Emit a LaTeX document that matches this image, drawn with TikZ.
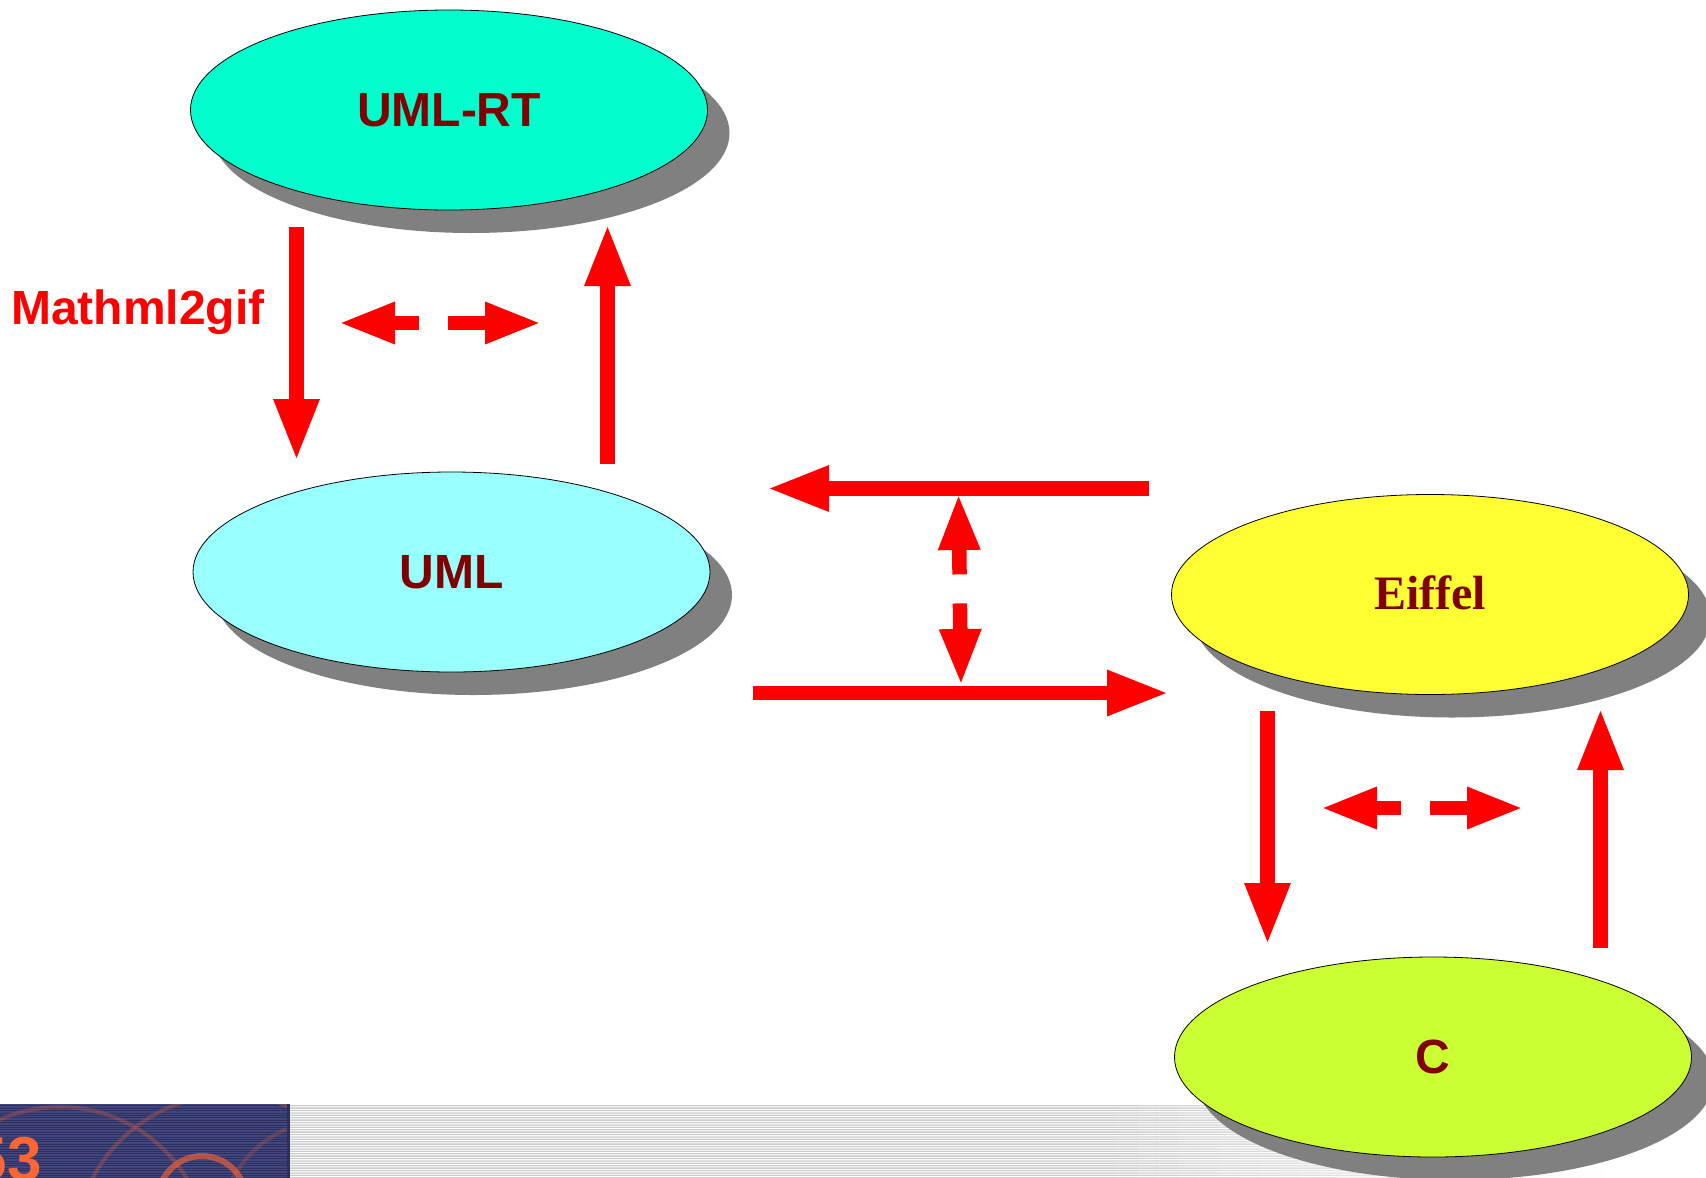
\documentclass[tikz,border=0pt]{standalone}
\usepackage{fontspec}
\setmainfont{Liberation Sans}
\newfontfamily\timesbold{Liberation Serif}
\usetikzlibrary{arrows.meta,shapes.geometric,shadows}

\definecolor{rtfill}{RGB}{0,255,204}
\definecolor{umlfill}{RGB}{153,255,255}
\definecolor{eiffelfill}{RGB}{255,255,51}
\definecolor{cfill}{RGB}{204,255,51}
\definecolor{labelred}{RGB}{128,0,0}
\definecolor{shadowgray}{RGB}{128,128,128}
\definecolor{navy}{RGB}{66,70,128}
\definecolor{navyline}{RGB}{46,48,92}
\definecolor{stripegray}{RGB}{204,204,204}
\definecolor{numorange}{RGB}{255,102,51}

\begin{document}
\begin{tikzpicture}[x=1pt,y=-1pt,
  lang/.style={ellipse, draw=black, line width=0.8pt,
    minimum width=517pt, minimum height=200pt, inner sep=0pt,
    text=labelred, font=\bfseries\fontsize{48}{58}\selectfont,
    drop shadow={shadow xshift=22pt, shadow yshift=-23pt,
      fill=shadowgray, opacity=1, draw=none}},
  flow/.style={draw=red, line width=14.5pt,
    -{Triangle[length=62pt,width=42pt]}},
  twoway/.style={draw=red, line width=14.5pt,
    {Triangle[length=57pt,width=38pt]}-{Triangle[length=57pt,width=38pt]}}
]
\useasboundingbox (0,0) rectangle (1706,1178);
\fill[white] (0,0) rectangle (1706,1178);

% footer band: striped navy block on the left
\fill[navy] (0,1104) rectangle (290,1178);
\draw[navyline, line width=1.1pt] \foreach \y in {1105.9,1108.3,...,1178} {(0,\y) -- (290,\y)};
\begin{scope}
  \clip (0,1104) rectangle (290,1178);
  \draw[numorange, opacity=0.25, line width=4pt] (230,1250) circle[radius=155pt];
  \draw[numorange, opacity=0.25, line width=4pt] (60,1255) circle[radius=148pt];
  \draw[numorange, opacity=0.2, line width=4pt] (330,1230) circle[radius=110pt];
  \draw[numorange, opacity=0.6, line width=6pt] (202,1200) circle[radius=44pt];
\end{scope}
\draw[navyline, line width=3pt] (288.5,1104) -- (288.5,1178);
\node[anchor=base east, inner sep=0pt, text=numorange,
  font=\bfseries\fontsize{62}{70}\selectfont] (num) at (42,1180) {53};

% footer band: grey rules, solid at first, then fading out to the right
\fill[stripegray] \foreach \y in {1105.7,1108.1,...,1178} {(290,\y-0.65) rectangle (1117,\y+0.65)};
\foreach \k in {0,...,24} {
  \pgfmathsetmacro\xa{1117+\k*20.2}
  \pgfmathsetmacro\xb{\xa+20.6}
  \pgfmathtruncatemacro\pc{96-4*\k}
  \fill[stripegray!\pc!white] \foreach \y in {1105.7,1108.1,...,1178} {(\xa,\y-0.65) rectangle (\xb,\y+0.65)};
}

% language ellipses
\node[lang, fill=rtfill] (rt) at (449,110) {UML-RT};
\node[lang, fill=umlfill] (uml) at (451.5,572) {UML};
\node[lang, fill=eiffelfill, font=\timesbold\bfseries\fontsize{48}{58}\selectfont] (eiffel) at (1430,594.5) {\raisebox{4pt}{Eiffel}};
\node[lang, fill=cfill] (c) at (1433,1057) {C};

\node[anchor=base west, inner sep=0pt, text=red,
  font=\bfseries\fontsize{48}{58}\selectfont] (lbl) at (11,324) {Mathml2gif};

% connector end points
\coordinate (rtDownA) at (296.5,227);
\coordinate (rtDownB) at (296.5,461);
\coordinate (rtUpA)   at (607.5,464);
\coordinate (rtUpB)   at (607.5,224);
\coordinate (rtSideA) at (338,323);
\coordinate (rtSideB) at (542,323);
\coordinate (backA)   at (1149,488.5);
\coordinate (backB)   at (767,488.5);
\coordinate (fwdA)    at (753,693);
\coordinate (fwdB)    at (1169,693);
\coordinate (midA)    at (958.5,493);
\coordinate (midB)    at (961,686);
\coordinate (cDownA)  at (1267.5,711);
\coordinate (cDownB)  at (1267.5,945);
\coordinate (cUpA)    at (1600.5,948);
\coordinate (cUpB)    at (1600.5,708);
\coordinate (cSideA)  at (1320,808);
\coordinate (cSideB)  at (1524,808);

% arrows
\draw[flow] (rtDownA) -- (rtDownB);
\draw[flow] (rtUpA) -- (rtUpB);
\draw[twoway, dash pattern=on 28pt off 29pt on 60pt] (rtSideA) -- (rtSideB);
\draw[flow] (backA) -- (backB);
\draw[flow] (fwdA) -- (fwdB);
\draw[twoway, dash pattern=on 28pt off 29pt on 60pt] (midA) -- (midB);
\draw[flow] (cDownA) -- (cDownB);
\draw[flow] (cUpA) -- (cUpB);
\draw[twoway, dash pattern=on 28pt off 29pt on 60pt] (cSideA) -- (cSideB);
\end{tikzpicture}
\end{document}
